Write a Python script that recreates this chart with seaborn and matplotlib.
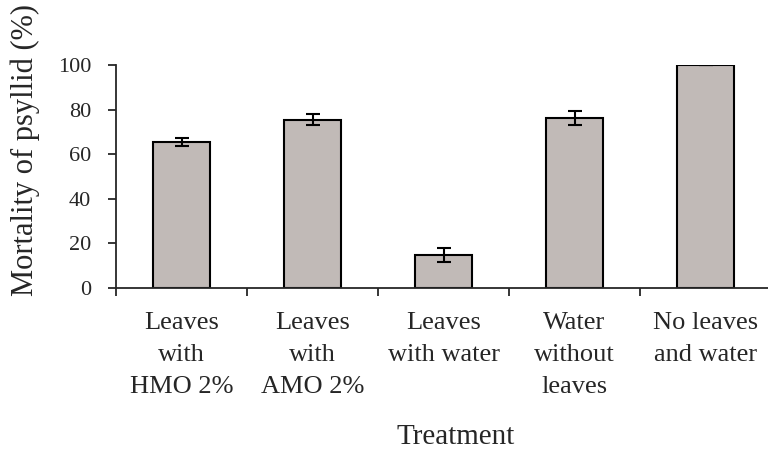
import numpy as np
import pandas as pd
import matplotlib
matplotlib.use("Agg")
import matplotlib.pyplot as plt
import seaborn as sns

# datos
tratamientos = ["Leaves\nwith\nHMO 2%", "Leaves\nwith\nAMO 2%", "Leaves\nwith water",
                "Water\nwithout\nleaves", "No leaves\nand water"]
mortalidad = [65.5, 75.5, 14.9, 76.3, 100.0]
error = [1.8, 2.6, 3.2, 3.1, 0.0]
yticks = [0, 20, 40, 60, 80, 100]

df = pd.DataFrame({"Treatment": tratamientos, "Mortality": mortalidad})

sns.set_style("ticks")
plt.rcParams["font.family"] = ["Liberation Serif", "DejaVu Serif"]

fig = plt.figure(figsize=(7.68, 4.5), dpi=100)
ax = fig.add_axes([116 / 768, 1 - 288 / 450, 655 / 768, 223 / 450])

sns.barplot(data=df, x="Treatment", y="Mortality", color="#c1bab7",
            saturation=1, width=0.43, edgecolor="black", linewidth=1.5,
            errorbar=None, ax=ax)
ax.errorbar(x=np.arange(len(mortalidad)), y=mortalidad, yerr=error, fmt="none",
            ecolor="black", elinewidth=1.5, capsize=4.7, capthick=1.5)

ax.set_xlim(-0.5, len(tratamientos) - 0.5)
ax.set_ylim(0, 100)
ax.set_yticks(yticks)
ax.spines["top"].set_visible(False)
ax.spines["right"].set_visible(False)
ax.spines["left"].set_linewidth(1.3)
ax.spines["bottom"].set_linewidth(1.3)

ax.set_xticks(np.arange(-0.5, len(tratamientos), 1.0), minor=True)
ax.tick_params(axis="x", which="major", length=0, pad=17, labelsize=19)
ax.tick_params(axis="x", which="minor", length=6, width=1.3, direction="out")
ax.tick_params(axis="y", length=6, width=1.3, pad=12, labelsize=16)
for lbl in ax.get_xticklabels():
    lbl.set_linespacing(1.6)

ax.set_xlabel("Treatment", fontsize=21)
ax.xaxis.set_label_coords((456 - 116) / 655, -(424 - 288) / 223)
ax.set_ylabel("Mortality of psyllid (%)", fontsize=22)
ax.yaxis.set_label_coords(-(116 - 40) / 655, (288 - 150) / 223)

plt.savefig("out.png", dpi=100)
